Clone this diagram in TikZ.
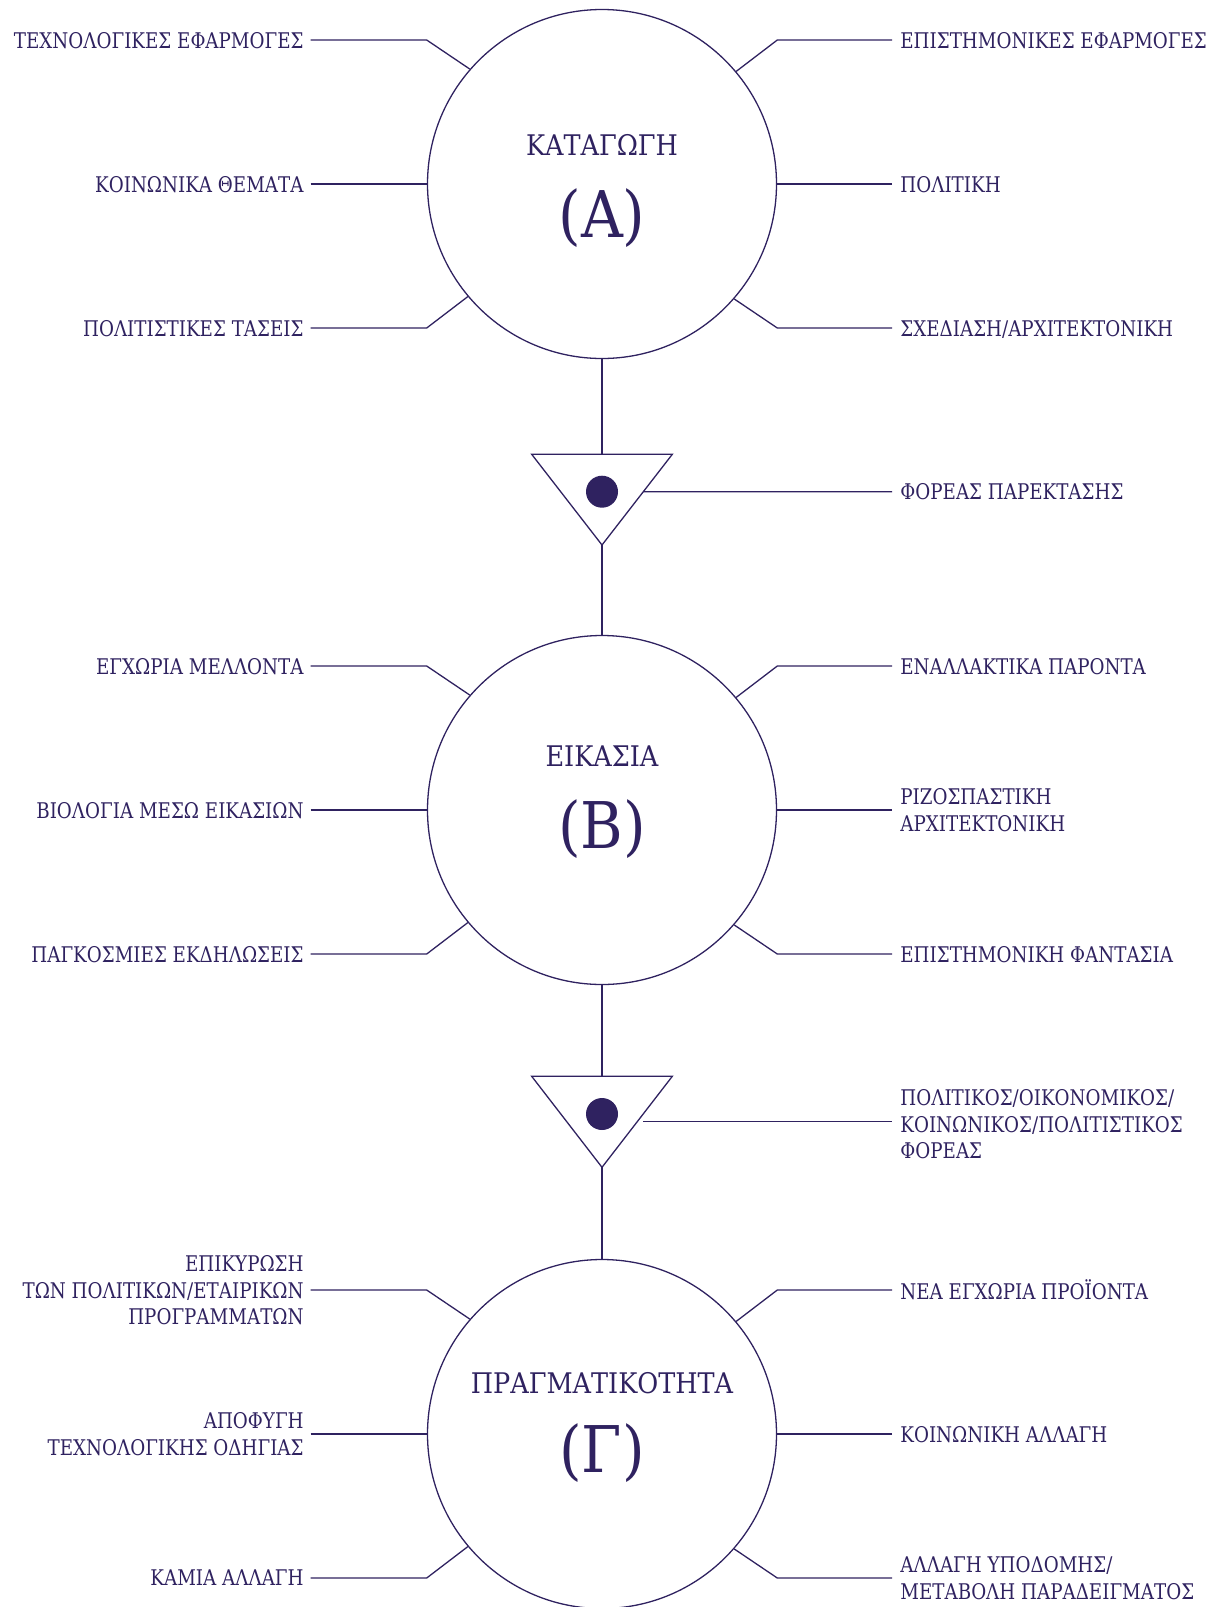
\documentclass[tikz,border=0pt]{standalone}
\usepackage{fontspec}
\IfFontExistsTF{DejaVu Serif Condensed}{%
  \setmainfont{DejaVu Serif Condensed}%
  \newfontfamily\lblfont[FakeStretch=0.94]{DejaVu Serif Condensed}}{%
  \setmainfont[FakeStretch=0.9]{DejaVu Serif}%
  \newfontfamily\lblfont[FakeStretch=0.846]{DejaVu Serif}}
\usetikzlibrary{calc}
\definecolor{ink}{RGB}{47,34,96}
\tikzset{
  conn/.style={draw=ink, line width=0.65pt},
  bigcirc/.style={circle, draw=ink, line width=0.65pt, minimum size=174.5pt, inner sep=0pt},
  lbl/.style={text=ink, font=\lblfont\fontsize{10.8}{13.25}\selectfont, inner sep=0pt, text depth=0pt},
  ttl/.style={text=ink, font=\fontsize{14.2}{17}\selectfont, inner sep=0pt, anchor=base},
  bigttl/.style={text=ink, font=\fontsize{32.2}{38}\selectfont, inner sep=0pt, anchor=base},
  dotmark/.style={circle, fill=ink, minimum size=16pt, inner sep=0pt},
  tri/.style={draw=ink, line width=0.65pt, line join=miter},
}
\newcommand\lbranch[5]{%
  \node[lbl, anchor=east, align=right] (#1) at (304,#4) {#5};
  \coordinate (#1k) at (426.7,#4);
  \draw[conn] ([xshift=3.35pt]#1.east) -- (#1k) -- (#2.#3);}
\newcommand\rbranch[5]{%
  \node[lbl, anchor=west, align=left] (#1) at (900,#4) {#5};
  \coordinate (#1k) at (777.3,#4);
  \draw[conn] ([xshift=-4pt]#1.west) -- (#1k) -- (#2.#3);}
\begin{document}
\begin{tikzpicture}[x=0.5pt,y=-0.5pt]
\useasboundingbox (0,0) rectangle (1216,1607);
% circles
\node[bigcirc] (A) at (602,184) {};
\node[bigcirc] (B) at (602,810) {};
\node[bigcirc] (C) at (602,1434) {};
% titles
\node[ttl] (At) at (602,155.7) {ΚΑΤΑΓΩΓΗ};
\node[bigttl] (Ab) at (602,237) {(Α)};
\node[ttl] (Bt) at (602,766.7) {ΕΙΚΑΣΙΑ};
\node[bigttl] (Bb) at (602,848) {(Β)};
\node[ttl] (Ct) at (602,1393.3) {ΠΡΑΓΜΑΤΙΚΟΤΗΤΑ};
\node[bigttl] (Cb) at (602,1472.7) {(Γ)};
% branches A
\lbranch{a1}{A}{139.3}{40}{ΤΕΧΝΟΛΟΓΙΚΕΣ ΕΦΑΡΜΟΓΕΣ}
\lbranch{a2}{A}{180}{184}{ΚΟΙΝΩΝΙΚΑ ΘΕΜΑΤΑ}
\lbranch{a3}{A}{220.7}{328}{ΠΟΛΙΤΙΣΤΙΚΕΣ ΤΑΣΕΙΣ}
\rbranch{a4}{A}{40.7}{40}{ΕΠΙΣΤΗΜΟΝΙΚΕΣ ΕΦΑΡΜΟΓΕΣ}
\rbranch{a5}{A}{0}{184}{ΠΟΛΙΤΙΚΗ}
\rbranch{a6}{A}{319.3}{328}{ΣΧΕΔΙΑΣΗ/ΑΡΧΙΤΕΚΤΟΝΙΚΗ}
% branches B
\lbranch{b1}{B}{139.3}{666}{ΕΓΧΩΡΙΑ ΜΕΛΛΟΝΤΑ}
\lbranch{b2}{B}{180}{810}{ΒΙΟΛΟΓΙΑ ΜΕΣΩ ΕΙΚΑΣΙΩΝ}
\lbranch{b3}{B}{220.7}{954}{ΠΑΓΚΟΣΜΙΕΣ ΕΚΔΗΛΩΣΕΙΣ}
\rbranch{b4}{B}{40.7}{666}{ΕΝΑΛΛΑΚΤΙΚΑ ΠΑΡΟΝΤΑ}
\rbranch{b5}{B}{0}{810}{ΡΙΖΟΣΠΑΣΤΙΚΗ\\ΑΡΧΙΤΕΚΤΟΝΙΚΗ}
\rbranch{b6}{B}{319.3}{954}{ΕΠΙΣΤΗΜΟΝΙΚΗ ΦΑΝΤΑΣΙΑ}
% branches C
\lbranch{c1}{C}{139.3}{1290}{ΕΠΙΚΥΡΩΣΗ\\ΤΩΝ ΠΟΛΙΤΙΚΩΝ/ΕΤΑΙΡΙΚΩΝ\\ΠΡΟΓΡΑΜΜΑΤΩΝ}
\lbranch{c2}{C}{180}{1434}{ΑΠΟΦΥΓΗ\\ΤΕΧΝΟΛΟΓΙΚΗΣ ΟΔΗΓΙΑΣ}
\lbranch{c3}{C}{220.7}{1578}{ΚΑΜΙΑ ΑΛΛΑΓΗ}
\rbranch{c4}{C}{40.7}{1290}{ΝΕΑ ΕΓΧΩΡΙΑ ΠΡΟΪΟΝΤΑ}
\rbranch{c5}{C}{0}{1434}{ΚΟΙΝΩΝΙΚΗ ΑΛΛΑΓΗ}
\rbranch{c6}{C}{319.3}{1578}{ΑΛΛΑΓΗ ΥΠΟΔΟΜΗΣ/\\ΜΕΤΑΒΟΛΗ ΠΑΡΑΔΕΙΓΜΑΤΟΣ}
% triangle 1
\coordinate (t1l) at (531.7,454.3);
\coordinate (t1r) at (672.3,454.3);
\coordinate (t1a) at (602,545);
\coordinate (t1t) at (602,454.3);
\draw[tri] (t1l) -- (t1r) -- (t1a) -- cycle;
\node[dotmark] (d1) at (602,491.7) {};
\coordinate (t1e) at ($(t1r)!0.412!(t1a)$);
\draw[conn] (A.south) -- (t1t);
\draw[conn] (t1a) -- (B.north);
\node[lbl, anchor=west] (f1) at (900,491.7) {ΦΟΡΕΑΣ ΠΑΡΕΚΤΑΣΗΣ};
\draw[conn] (t1e) -- ([xshift=-4pt]f1.west);
% triangle 2
\coordinate (t2l) at (531.7,1076.3);
\coordinate (t2r) at (672.3,1076.3);
\coordinate (t2a) at (602,1167.3);
\coordinate (t2t) at (602,1076.3);
\draw[tri] (t2l) -- (t2r) -- (t2a) -- cycle;
\node[dotmark] (d2) at (602,1114) {};
\coordinate (t2e) at (643.3,1121.7);
\draw[conn] (B.south) -- (t2t);
\draw[conn] (t2a) -- (C.north);
\node[lbl, anchor=west, align=left] (f2) at (900,1124) {ΠΟΛΙΤΙΚΟΣ/ΟΙΚΟΝΟΜΙΚΟΣ/\\ΚΟΙΝΩΝΙΚΟΣ/ΠΟΛΙΤΙΣΤΙΚΟΣ\\ΦΟΡΕΑΣ};
\draw[conn] (t2e) -- ([xshift=-4pt]t2e -| f2.west);
\end{tikzpicture}
\end{document}
